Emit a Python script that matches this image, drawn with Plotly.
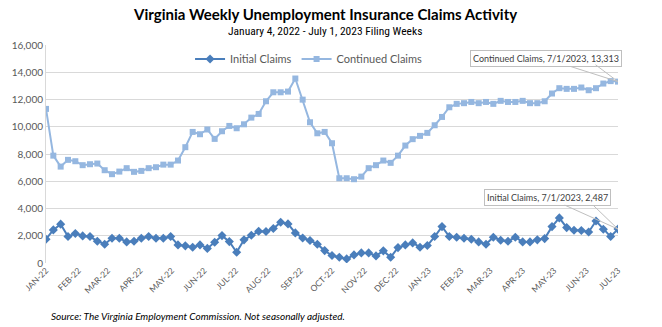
import pandas as pd
import plotly.graph_objects as go

weeks = pd.date_range("2022-01-01", "2023-07-01", freq="7D")

initial_claims = [
    1745, 2430, 2850, 1940, 2160, 1990, 1940, 1600, 1380, 1820,
    1820, 1550, 1600, 1820, 1940, 1820, 1820, 1940, 1330, 1260,
    1160, 1330, 1070, 1520, 2010, 1570, 790, 1700, 2040, 2330,
    2310, 2530, 2990, 2870, 2210, 1840, 1650, 1380, 910, 545,
    425, 300, 595, 740, 740, 520, 890, 425, 1130, 1330,
    1475, 1160, 1280, 1940, 2670, 1940, 1890, 1820, 1745, 1550,
    1380, 1890, 1670, 1600, 1890, 1550, 1550, 1700, 1790, 2670,
    3310, 2600, 2400, 2380, 2280, 3080, 2480, 1940, 2487,
]

continued_claims = [
    11310, 7880, 7075, 7570, 7470, 7180, 7250, 7300, 6810, 6520,
    6710, 6960, 6690, 6760, 6960, 7030, 7220, 7220, 7520, 8500,
    9620, 9450, 9800, 9110, 9670, 10060, 9890, 10180, 10670, 10940,
    11870, 12530, 12530, 12580, 13540, 11990, 10330, 9520, 9620, 8790,
    6220, 6220, 6150, 6340, 6960, 7180, 7520, 7350, 7880, 8620,
    9090, 9330, 9550, 10110, 10720, 11430, 11680, 11730, 11820, 11730,
    11820, 11680, 11900, 11820, 11820, 11900, 11730, 11730, 11870, 12440,
    12830, 12780, 12780, 12880, 12680, 12830, 13170, 13350, 13313,
]

month_ticks = pd.date_range("2022-01-01", "2023-07-01", freq="MS")
month_labels = [
    "JAN-22", "FEB-22", "MAR-22", "APR-22", "MAY-22", "JUN-22", "JUL-22",
    "AUG-22", "SEP-22", "OCT-22", "NOV-22", "DEC-22", "JAN-23", "FEB-23",
    "MAR-23", "APR-23", "MAY-23", "JUN-23", "JUL-23",
]

y_ticks = [0, 2000, 4000, 6000, 8000, 10000, 12000, 14000, 16000]

title_text = "Virginia Weekly Unemployment Insurance Claims Activity"
subtitle_text = "January 4, 2022 - July 1, 2023 Filing Weeks"
source_text = "Source: The Virginia Employment Commission. Not seasonally adjusted."

INIT_COLOR = "#4a7ebb"
CONT_COLOR = "#95b7e0"
GRAY = "#595959"
FONT = "Lato, 'Open Sans', sans-serif"
NARROW = "'Liberation Sans Narrow', 'Roboto Condensed', 'Liberation Sans', sans-serif"

fig = go.Figure()
fig.add_trace(go.Scatter(
    x=weeks, y=initial_claims, name="Initial Claims", mode="lines+markers",
    line=dict(color=INIT_COLOR, width=2),
    marker=dict(symbol="diamond", size=7, color=INIT_COLOR),
))
fig.add_trace(go.Scatter(
    x=weeks, y=continued_claims, name="Continued Claims", mode="lines+markers",
    line=dict(color=CONT_COLOR, width=2),
    marker=dict(symbol="square", size=6, color=CONT_COLOR),
))

annotations = [
    dict(text="<b>" + title_text + "</b>", xref="paper", yref="paper",
         x=0.488, y=1.142, xanchor="center", yanchor="middle", showarrow=False,
         font=dict(family=FONT, size=15, color="#000000")),
    dict(text=subtitle_text, xref="paper", yref="paper",
         x=0.488, y=1.064, xanchor="center", yanchor="middle", showarrow=False,
         font=dict(family=NARROW, size=11.5, color="#000000")),
    dict(text="<i>" + source_text + "</i>", xref="paper", yref="paper",
         x=0.006, y=-0.243, xanchor="left", yanchor="middle", showarrow=False,
         font=dict(family=FONT, size=10, color="#000000")),
]

last_date = weeks[-1]
callouts = [
    (continued_claims[-1], "Continued Claims, 7/1/2023, " + f"{continued_claims[-1]:,}", -72, -23, -24, -18),
    (initial_claims[-1], "Initial Claims, 7/1/2023, " + f"{initial_claims[-1]:,}", -71, -32, -26, -25),
]
for val, txt, ax, ay, ax2, ay2 in callouts:
    annotations.append(dict(
        text=txt, x=last_date, y=val, xref="x", yref="y", ax=ax, ay=ay,
        showarrow=True, arrowhead=0, arrowwidth=1, arrowcolor="#bfbfbf",
        bordercolor="#bfbfbf", borderwidth=1, borderpad=2, bgcolor="#ffffff",
        font=dict(family=FONT, size=9, color="#404040"),
    ))
    annotations.append(dict(
        text="", x=last_date, y=val, xref="x", yref="y", ax=ax2, ay=ay2,
        showarrow=True, arrowhead=0, arrowwidth=1, arrowcolor="#bfbfbf",
        font=dict(size=1),
    ))

fig.update_layout(
    width=662, height=327,
    margin=dict(l=38, r=44, t=45, b=64),
    paper_bgcolor="#ffffff", plot_bgcolor="#ffffff",
    showlegend=True,
    legend=dict(orientation="h", x=0.459, y=0.936, xanchor="center", yanchor="middle",
                font=dict(family=FONT, size=11, color=GRAY), bgcolor="rgba(0,0,0,0)",
                itemwidth=30),
    annotations=annotations,
    hovermode=False,
    xaxis=dict(
        type="date", range=[weeks[0], weeks[-1]],
        tickvals=list(month_ticks), ticktext=month_labels, tickangle=-45,
        tickfont=dict(family=FONT, size=8.5, color=GRAY),
        showgrid=False, zeroline=False, showline=False, ticks="",
    ),
    yaxis=dict(
        range=[0, 16000], tickvals=y_ticks, tickformat=",",
        tickfont=dict(family=FONT, size=10, color=GRAY),
        showgrid=True, gridcolor="#d9d9d9", gridwidth=1,
        zeroline=False, showline=True, linecolor="#d9d9d9", ticks="",
    ),
)

fig.write_html("out.html")
